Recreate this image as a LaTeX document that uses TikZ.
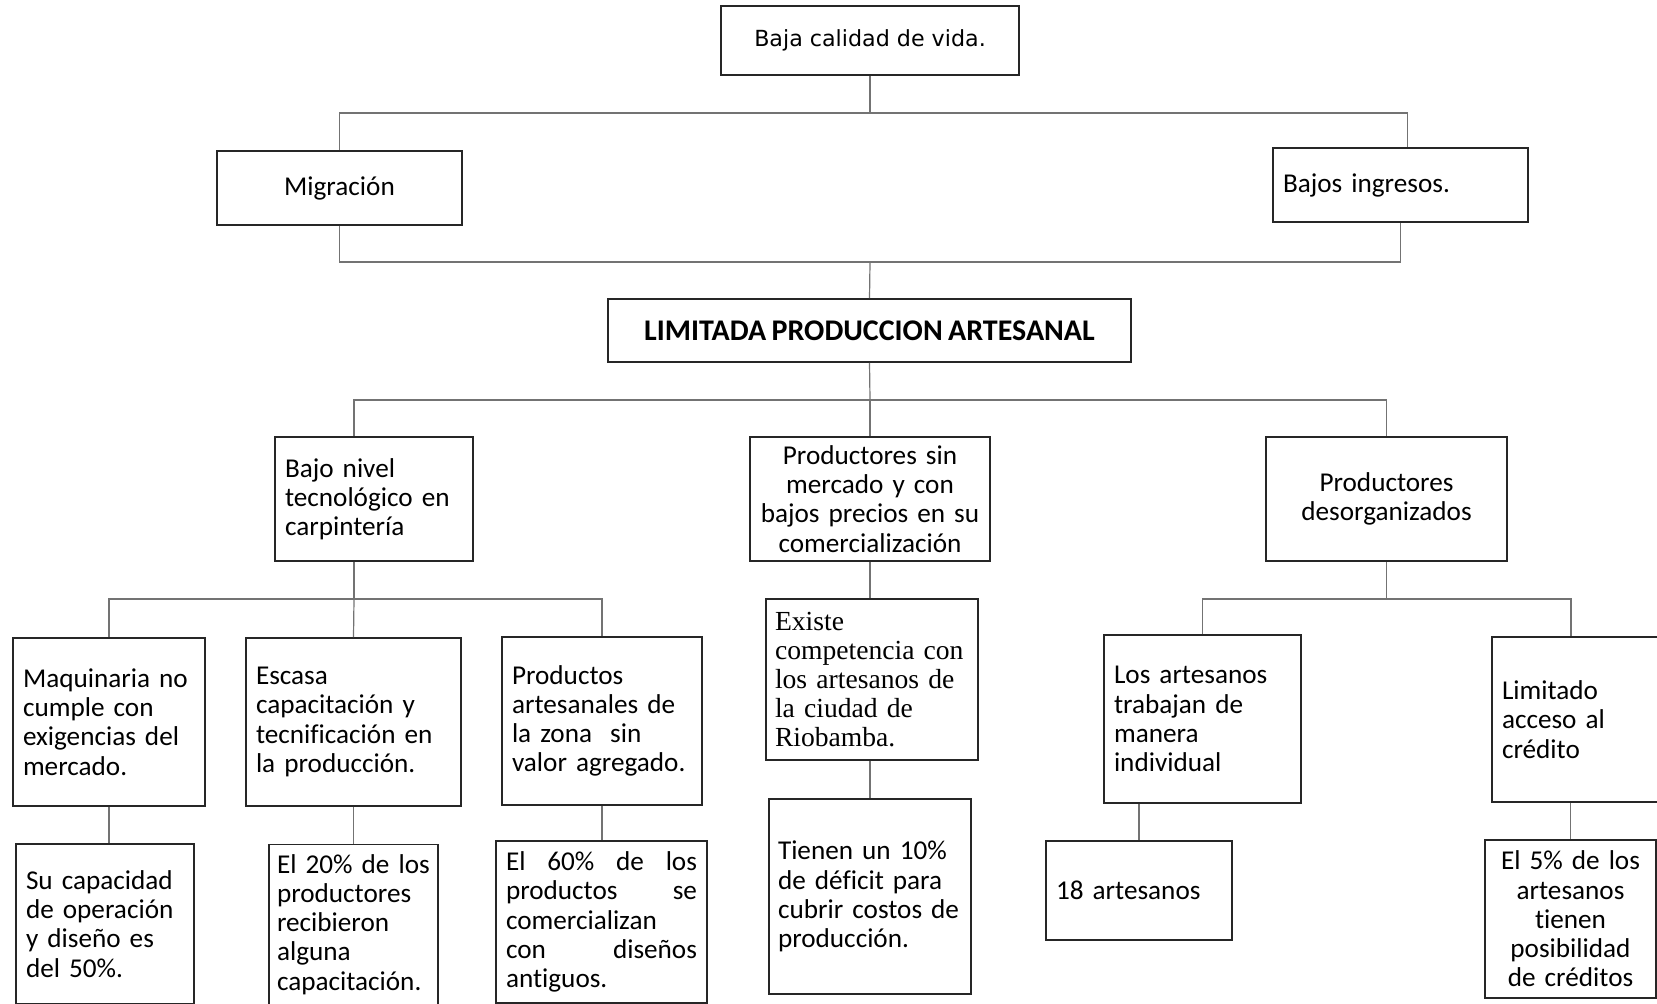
\documentclass[tikz,border=0pt]{standalone}
\usepackage{fontspec}
\setmainfont{Carlito}[WordSpace=0.8, Ligatures=CommonOff]
\newfontfamily\timesfont{Liberation Serif}
\newfontfamily\dejavufont{DejaVu Sans}
\usetikzlibrary{positioning,calc}

\begin{document}
\begin{tikzpicture}[
  x=0.5pt, y=-0.5pt,
  font=\fontsize{13.6}{14.6}\selectfont,
  box/.style={draw=black!85, line width=0.9pt, inner xsep=5pt, inner ysep=1pt},
  boxl/.style={box, align=left},
  boxc/.style={box, align=center},
  link/.style={draw=black!55, line width=0.6pt}
]
\useasboundingbox (0,0) rectangle (1657,1004);
\clip (0,0) rectangle (1657,1004);
\node[boxc, minimum width=149pt, minimum height=34.5pt, font=\dejavufont\fontsize{11.1}{13}\selectfont] (baja) at (870,40.5) {Baja calidad de vida.};
\node[boxc, minimum width=122.5pt, minimum height=37pt] (migr) at (339.5,188) {Migración};
\node[boxl, text width=117.5pt, minimum height=37pt] (bajos) at (1400.5,185) {Bajos ingresos.};
\node[boxc, minimum width=261.5pt, minimum height=31.5pt, font=\fontsize{15}{17}\selectfont\bfseries] (limit) at (869.5,330.5) {LIMITADA PRODUCCION ARTESANAL};

\node[boxl, text width=89pt, minimum height=62pt] (bnivel) at (374,499) {Bajo nivel\\tecnológico en\\carpintería};
\node[boxc, text width=114pt, minimum height=62pt, inner xsep=3pt] (psm) at (870,499) {Productores sin\\mercado y con\\bajos precios en su\\comercialización};
\node[boxc, text width=110.5pt, minimum height=62pt] (pdes) at (1386.5,499) {Productores\\desorganizados};

\node[boxl, text width=86pt, minimum height=84pt] (maq) at (109,722) {Maquinaria no\\cumple con\\exigencias del\\mercado.};
\node[boxl, text width=97.5pt, minimum height=84pt] (esc) at (353.5,722) {Escasa\\capacitación y\\tecnificación en\\la producción.};
\node[boxl, text width=90pt, minimum height=84pt] (part) at (602,721) {Productos\\artesanales de\\la zona~ sin\\valor agregado.};
\node[boxl, text width=97pt, minimum height=80.5pt, inner xsep=4.5pt, font=\timesfont\fontsize{13.8}{14.5}\selectfont] (exis) at (872,679.5) {Existe\\competencia con\\los artesanos de\\la ciudad de\\Riobamba.};
\node[boxl, text width=88.5pt, minimum height=84pt] (arte) at (1202.5,719) {Los artesanos\\trabajan de\\manera\\individual};
\node[boxl, text width=74pt, minimum height=82.5pt] (lim) at (1576,719.5) {Limitado\\acceso al\\crédito};

\node[boxl, text width=79pt, minimum height=80pt] (cap) at (105,924) {Su capacidad\\de operación\\y diseño es\\del 50\%.};
\node[boxl, text width=76.5pt, minimum height=80pt, inner xsep=4pt] (p20) at (353.5,924.5) {El 20\% de los\\productores\\recibieron\\alguna\\capacitación.};
\node[boxl, text width=95.5pt, minimum height=81pt] (p60) at (601.5,922) {El\hfill 60\%\hfill de\hfill los\\productos\hfill se\\comercializan\\con\hfill diseños\\antiguos.};
\node[boxl, text width=92pt, minimum height=97.5pt, inner xsep=4.5pt] (tien) at (870,896.5) {Tienen un 10\%\\de déficit para\\cubrir costos de\\producción.};
\node[boxl, text width=83pt, minimum height=49.5pt] (cant) at (1139,890.5) {18 artesanos};
\node[boxc, text width=77.5pt, minimum height=79pt, inner xsep=4pt] (p5) at (1570.5,919) {El 5\% de los\\artesanos\\tienen\\posibilidad\\de créditos};

\coordinate (j1) at (870,113);
\coordinate (j2) at (870,262);
\coordinate (j3) at (870,400);
\coordinate (j4) at (354,599);
\coordinate (j5) at (pdes.south |- j4);

\draw[link] (baja.south) -- (j1);
\draw[link] (migr.north) |- (j1) -| ([xshift=3.5pt]bajos.north);
\draw[link] (migr.south) |- (j2) -| (bajos.south);
\draw[link] (j2) -- (limit.north);
\draw[link] (limit.south) -- (j3);
\draw[link] ([xshift=-10pt]bnivel.north) |- (j3) -| (pdes.north);
\draw[link] (j3) -- (psm.north);

\draw[link] ([xshift=-10pt]bnivel.south) -- (j4);
\draw[link] (maq.north) |- (j4) -| (part.north);
\draw[link] (j4) -- (esc.north);
\draw[link] (psm.south) -- (psm.south |- exis.north);
\draw[link] (tien.north |- exis.south) -- (tien.north);
\draw[link] (pdes.south) -- (j5);
\draw[link] (arte.north) |- (j5) -| ([xshift=-2.5pt]lim.north);

\foreach \a/\b in {maq/cap,esc/p20,part/p60} {
  \draw[link] (\a.south) -- (\a.south |- \b.north);
}
\draw[link] (arte.south -| cant.north) -- (cant.north);
\draw[link] (lim.south -| p5.north) -- (p5.north);
\end{tikzpicture}
\end{document}
